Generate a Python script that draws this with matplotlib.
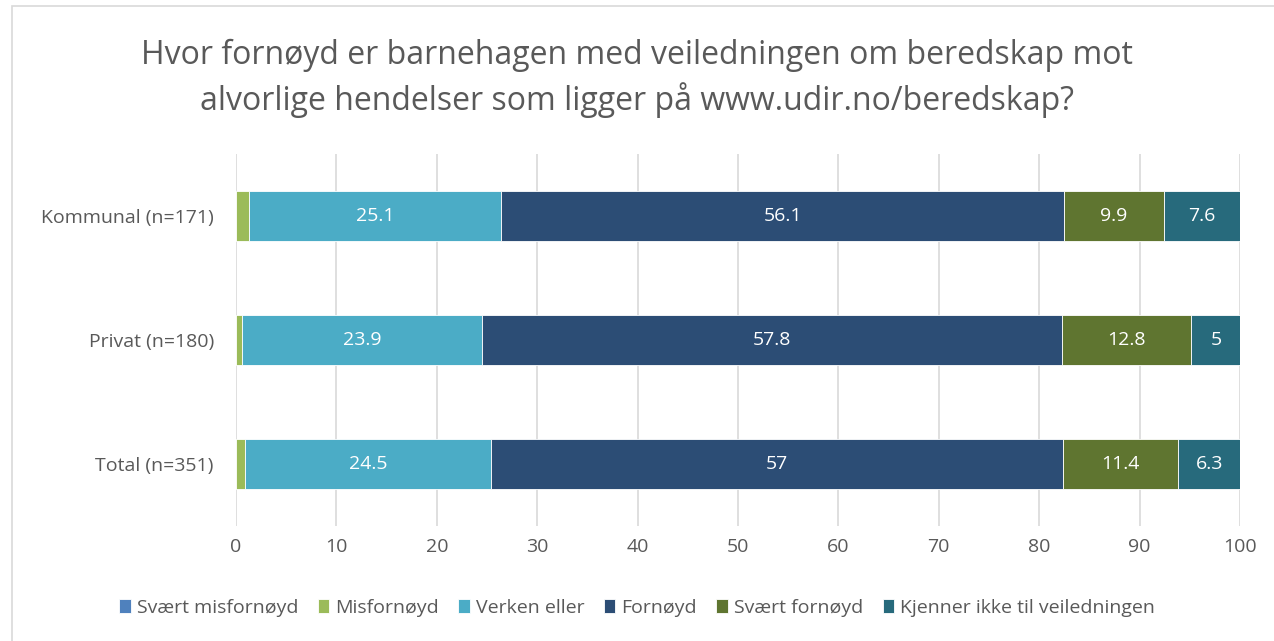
import numpy as np
import matplotlib
matplotlib.use("Agg")
import matplotlib.pyplot as plt
from matplotlib.patches import Rectangle

plt.rcParams['font.family'] = ['Open Sans', 'DejaVu Sans']

categories = ['Kommunal (n=171)', 'Privat (n=180)', 'Total (n=351)']
series = ['Svært misfornøyd', 'Misfornøyd', 'Verken eller', 'Fornøyd',
          'Svært fornøyd', 'Kjenner ikke til veiledningen']
svaert_misfornoyd = [0.0, 0.0, 0.0]
misfornoyd = [1.3, 0.6, 0.9]
verken_eller = [25.1, 23.9, 24.5]
fornoyd = [56.1, 57.8, 57.0]
svaert_fornoyd = [9.9, 12.8, 11.4]
kjenner_ikke = [7.6, 5.0, 6.3]
values = [svaert_misfornoyd, misfornoyd, verken_eller, fornoyd, svaert_fornoyd, kjenner_ikke]
colors = ['#4F81BD', '#9BBB59', '#4BACC6', '#2C4D75', '#5F7530', '#276A7C']
show_label = [False, False, True, True, True, True]

fig = plt.figure(figsize=(12.74, 6.41), dpi=100)
ax = fig.add_axes([236 / 1274, 1 - 526 / 641, 1004 / 1274, 372 / 641])

y = np.arange(len(categories))
left = np.zeros(len(categories))
for name, vals, c, lab in zip(series, values, colors, show_label):
    vals = np.array(vals)
    bars = ax.barh(y, vals, left=left, height=0.4, color=c, label=name,
                   edgecolor='white', linewidth=0.6, zorder=3)
    if lab:
        for b, v in zip(bars, vals):
            txt = f'{v:g}'
            ax.text(b.get_x() + b.get_width() / 2, b.get_y() + b.get_height() / 2, txt,
                    ha='center', va='center', color='white', fontsize=14, zorder=4)
    left += vals

ax.set_xlim(0, 100)
ax.set_ylim(2.5, -0.5)
ax.set_xticks(np.arange(0, 101, 10))
ax.set_yticks(y)
ax.set_yticklabels(categories)
ax.tick_params(axis='both', length=0, labelsize=14, colors='#595959')
ax.tick_params(axis='y', pad=16)
ax.tick_params(axis='x', pad=9)
ax.grid(axis='x', color='#D9D9D9', linewidth=1.2, zorder=0)
for s in ax.spines.values():
    s.set_visible(False)

fig.text(0.5, 1 - 55 / 641, 'Hvor fornøyd er barnehagen med veiledningen om beredskap mot',
         ha='center', va='center', fontsize=23, color='#595959')
fig.text(0.5, 1 - 100 / 641, 'alvorlige hendelser som ligger på www.udir.no/beredskap?',
         ha='center', va='center', fontsize=23, color='#595959')

fig.legend(loc='center', bbox_to_anchor=(0.5, 1 - 608 / 641), ncol=6, frameon=False,
           fontsize=14, handlelength=0.6, handleheight=0.7, handletextpad=0.3,
           columnspacing=1.0, labelcolor='#595959')

fig.patches.append(Rectangle((12 / 1274, -0.01), 1.0, 1.0, transform=fig.transFigure,
                             fill=False, edgecolor='#D9D9D9', linewidth=1.2))

fig.savefig('out.png', dpi=100)
